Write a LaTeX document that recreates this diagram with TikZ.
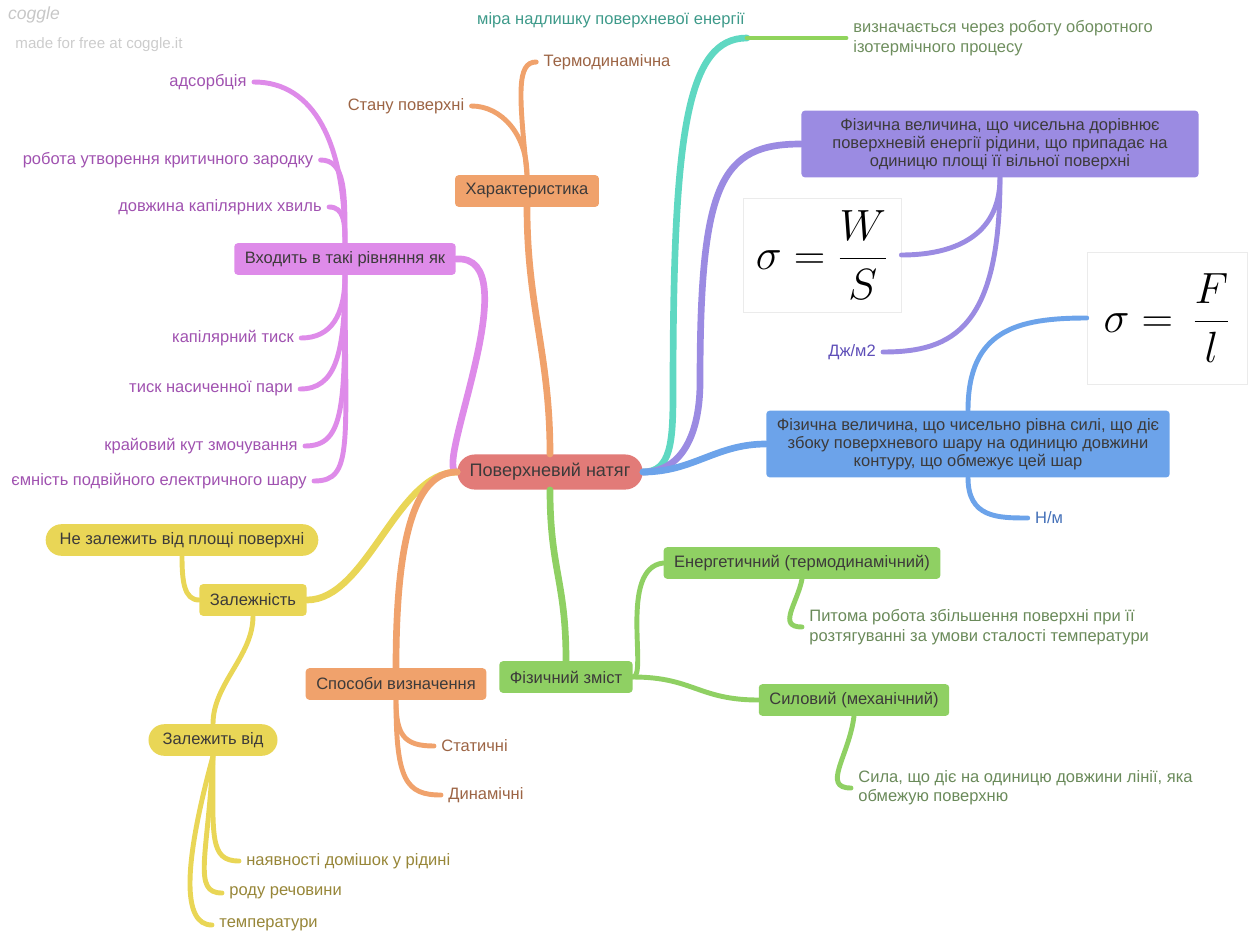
\documentclass[tikz,border=0pt]{standalone}
\usepackage{fontspec}
\setmainfont{Liberation Sans}
\usetikzlibrary{calc}

\definecolor{cpurple}{HTML}{DE8BE9}
\definecolor{tpurple}{HTML}{A052B0}
\definecolor{corange}{HTML}{F0A26C}
\definecolor{torange}{HTML}{9C6444}
\definecolor{cred}{HTML}{E27B78}
\definecolor{cteal}{HTML}{5FD8C2}
\definecolor{tteal}{HTML}{3E9A8A}
\definecolor{clime}{HTML}{90D45C}
\definecolor{tlime}{HTML}{6E8E5E}
\definecolor{clav}{HTML}{9B8BE2}
\definecolor{tlav}{HTML}{5E4EB8}
\definecolor{cblue}{HTML}{6CA3EA}
\definecolor{tblue}{HTML}{4470B8}
\definecolor{cyellow}{HTML}{E9D656}
\definecolor{tyellow}{HTML}{978638}
\definecolor{cgreen}{HTML}{8FD063}
\definecolor{tgreen}{HTML}{6A8A5A}
\definecolor{tdark}{HTML}{3C3A3A}

\tikzset{
  boxnode/.style={rectangle, rounded corners=2pt, minimum height=18pt, inner xsep=6pt, text=tdark, font=\fontsize{9.4}{10.2}\selectfont},
  pillnode/.style={boxnode, rounded corners=9pt, inner xsep=8pt},
  leafnode/.style={inner xsep=4pt, inner ysep=1.5pt, font=\fontsize{9.4}{11}\selectfont},
  branch/.style={line width=3.8pt, line cap=round},
  twig/.style={line width=2.8pt, line cap=round},
  formula/.style={rectangle, draw=black!8, fill=white, inner sep=0pt},
}

\begin{document}
\begin{tikzpicture}[x=0.02cm,y=-0.02cm]
\useasboundingbox (0,0) rectangle (1250,933);

\node[text=black!22, font=\fontsize{10}{12}\selectfont\itshape] (logo) at (34,15) {coggle};
\node[text=black!20, font=\fontsize{8.6}{10}\selectfont] (madefor) at (99,45) {made for free at coggle.it};

\node[pillnode, fill=cred, rounded corners=10pt, minimum height=20pt, inner xsep=7pt, font=\fontsize{10.3}{12}\selectfont] (root) at (550,472) {Поверхневий натяг};

\node[boxnode, fill=corange] (char) at (527,191) {Характеристика};
\node[leafnode, text=torange] (stan) at (406,106) {Стану поверхні};
\node[leafnode, text=torange] (termo) at (607,62) {Термодинамічна};

\node[boxnode, fill=cpurple] (vkh) at (345,259) {Входить в такі рівняння як};
\node[leafnode, text=tpurple] (adso) at (208,82) {адсорбція};
\node[leafnode, text=tpurple] (robota) at (168,160) {робота утворення критичного зародку};
\node[leafnode, text=tpurple] (dovzh) at (220,207) {довжина капілярних хвиль};
\node[leafnode, text=tpurple] (kapil) at (233,338) {капілярний тиск};
\node[leafnode, text=tpurple] (tysk) at (211,389) {тиск насиченної пари};
\node[leafnode, text=tpurple] (krai) at (201,446) {крайовий кут змочування};
\node[leafnode, text=tpurple] (yemn) at (159,481) {ємність подвійного електричного шару};

\node[leafnode, text=tteal] (mira) at (611,20) {міра надлишку поверхневої енергії};
\coordinate (miraend) at (747,38);
\node[leafnode, text=tlime, anchor=west, align=left] (vyzn) at (846,38) {визначається через роботу оборотного\\ізотермічного процесу};

\node[boxnode, fill=clav, minimum width=226pt, minimum height=38pt, align=center] (lavbox) at (1000,144) {Фізична величина, що чисельна дорівнює\\поверхневій енергії рідини, що припадає на\\одиницю площі її вільної поверхні};
\node[formula, minimum width=90pt, minimum height=65pt] (fWS) at (822,255) {\fontsize{25}{30}\selectfont$\displaystyle\sigma=\frac{W}{S}$};
\node[leafnode, text=tlav] (dzh) at (852,352) {Дж/м2};

\node[boxnode, fill=cblue, minimum width=226pt, minimum height=38pt, align=center] (bluebox) at (968,444) {Фізична величина, що чисельно рівна силі, що діє\\збоку поверхневого шару на одиницю довжини\\контуру, що обмежує цей шар};
\node[formula, minimum width=91pt, minimum height=75pt] (fFl) at (1167,318) {\fontsize{28}{32}\selectfont$\displaystyle\sigma=\,\frac{F}{l}$};
\node[leafnode, text=tblue] (nm) at (1049,518) {Н/м};

\node[boxnode, fill=cgreen] (fiz) at (566,677) {Фізичний зміст};
\node[boxnode, fill=cgreen] (energ) at (802,563) {Енергетичний (термодинамічний)};
\node[boxnode, fill=cgreen] (sylov) at (854,700) {Силовий (механічний)};
\node[leafnode, text=tgreen, anchor=west, align=left] (pytoma) at (802,627) {Питома робота збільшення поверхні при її\\розтягуванні за умови сталості температури};
\node[leafnode, text=tgreen, anchor=west, align=left] (syla) at (851,788) {Сила, що діє на одиницю довжини лінії, яка\\обмежую поверхню};

\node[boxnode, fill=cyellow] (zalezh) at (253,600) {Залежність};
\node[pillnode, fill=cyellow] (nezal) at (182,540) {Не залежить від площі поверхні};
\node[pillnode, fill=cyellow] (zalvid) at (213,740) {Залежить від};
\node[leafnode, text=tyellow, anchor=west] (nayav) at (239,861) {наявності домішок у рідині};
\node[leafnode, text=tyellow, anchor=west] (rodu) at (222,893) {роду речовини};
\node[leafnode, text=tyellow, anchor=west] (temp) at (212,925) {температури};

\node[boxnode, fill=corange] (sposoby) at (396,684) {Способи визначення};
\node[leafnode, text=torange, anchor=west] (stat) at (434,746) {Статичні};
\node[leafnode, text=torange, anchor=west] (dyn) at (441,795) {Динамічні};

\draw[branch, corange] (root.north) .. controls +(0,-100) and +(0,100) .. (char.south);
\draw[twig, corange] (char.north) .. controls +(0,-40) and +(30,0) .. (stan.east);
\draw[twig, corange] (char.north) .. controls +(-8,-80) and +(-20,0) .. (termo.west);

\draw[branch, cpurple] (root.west) .. controls +(-25,0) and +(75,-5) .. (vkh.east);
\draw[twig, cpurple] (vkh.north) .. controls +(0,-100) and +(60,0) .. (adso.east);
\draw[twig, cpurple] (vkh.north) .. controls +(0,-50) and +(25,0) .. (robota.east);
\draw[twig, cpurple] (vkh.north) .. controls +(0,-20) and +(15,0) .. (dovzh.east);
\draw[twig, cpurple] (vkh.south) .. controls +(0,40) and +(30,0) .. (kapil.east);
\draw[twig, cpurple] (vkh.south) .. controls +(0,80) and +(35,0) .. (tysk.east);
\draw[twig, cpurple] (vkh.south) .. controls +(0,130) and +(40,0) .. (krai.east);
\draw[twig, cpurple] (vkh.south) .. controls +(0,170) and +(40,0) .. (yemn.east);

\draw[branch, cteal] (root.east) .. controls +(28,0) and +(0,50) .. ($(root.east)+(30,-80)$) .. controls +(0,-260) and +(-60,0) .. (miraend);
\draw[twig, clime] (miraend) -- (vyzn.west);

\draw[branch, clav] (root.east) .. controls +(40,0) and +(0,50) .. ($(root.east)+(57,-90)$) .. controls +(0,-200) and +(-80,0) .. (lavbox.west);
\draw[twig, clav] (lavbox.south) .. controls +(0,60) and +(50,0) .. (fWS.east);
\draw[twig, clav] (lavbox.south) .. controls +(0,150) and +(70,0) .. (dzh.east);

\draw[branch, cblue] (root.east) .. controls +(50,0) and +(-50,0) .. (bluebox.west);
\draw[twig, cblue] (bluebox.north) .. controls +(0,-80) and +(-70,0) .. (fFl.west);
\draw[twig, cblue] (bluebox.south) .. controls +(0,40) and +(-30,0) .. (nm.west);

\draw[branch, cgreen] (root.south) .. controls +(0,80) and +(0,-80) .. (fiz.north);
\draw[twig, cgreen] (fiz.east) .. controls +(15,0) and +(-45,5) .. (energ.west);
\draw[twig, cgreen] (fiz.east) .. controls +(60,0) and +(-60,0) .. (sylov.west);
\draw[twig, cgreen] (energ.south) .. controls +(-5,25) and +(-25,0) .. (pytoma.west);
\draw[twig, cgreen] (sylov.south) .. controls +(-5,40) and +(-30,0) .. (syla.west);

\draw[branch, cyellow] (root.west) .. controls +(-60,0) and +(60,0) .. (zalezh.east);
\draw[twig, cyellow] (zalezh.west) .. controls +(-15,0) and +(0,25) .. (nezal.south);
\draw[twig, cyellow] (zalezh.south) .. controls +(0,40) and +(0,-40) .. (zalvid.north);
\draw[twig, cyellow] (zalvid.south) .. controls +(0,80) and +(-30,0) .. (nayav.west);
\draw[twig, cyellow] (zalvid.south) .. controls +(-5,100) and +(-30,0) .. (rodu.west);
\draw[twig, cyellow] (zalvid.south) .. controls +(-30,110) and +(-30,0) .. (temp.west);

\draw[branch, corange] (root.west) .. controls +(-45,0) and +(0,-120) .. (sposoby.north);
\draw[twig, corange] (sposoby.south) .. controls +(0,35) and +(-30,0) .. (stat.west);
\draw[twig, corange] (sposoby.south) .. controls +(0,80) and +(-35,0) .. (dyn.west);

\end{tikzpicture}
\end{document}
